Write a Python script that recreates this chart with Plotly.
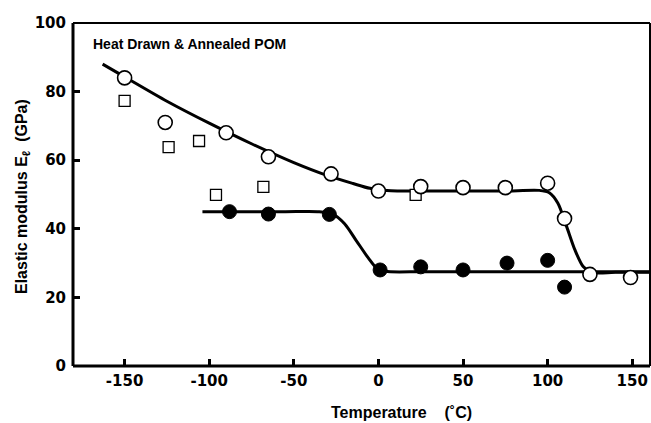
import plotly.graph_objects as go

# Open circles (heat drawn & annealed, upper series)
open_x = [-150, -126, -90, -65, -28, 0, 25, 50, 75, 100, 110, 125, 149]
open_y = [84, 71, 68, 61, 56, 51, 52.3, 52, 52, 53.3, 43, 26.7, 25.8]

# Filled circles (lower series)
fill_x = [-88, -65, -29, 1, 25, 50, 76, 100, 110]
fill_y = [45, 44.3, 44.2, 28, 28.9, 28, 30, 30.8, 23]

# Open squares
sq_x = [-150, -124, -106, -96, -68, 22]
sq_y = [77.3, 63.8, 65.6, 49.9, 52.2, 49.9]

# Guide curve through open circles
up_x = [-163, -150, -125, -100, -75, -50, -30, -15, -5, 5, 25, 50, 75, 95, 101, 106, 111, 116, 121, 126, 140, 160.5]
up_y = [88, 84.3, 77.2, 70.8, 64.8, 59.3, 55.5, 53.2, 51.8, 51.2, 51, 51, 51, 51.2, 50.5, 47.5, 41, 34, 29, 27.3, 27.3, 27.3]

# Guide curve through filled circles
lo_x = [-104, -80, -55, -35, -27, -20, -13, -6, -1, 4, 25, 50, 75, 100, 125, 160.5]
lo_y = [45, 45, 45, 45, 44.3, 41.5, 36.5, 31.5, 28.5, 27.6, 27.5, 27.5, 27.5, 27.5, 27.5, 27.5]

x_ticks = [-150, -100, -50, 0, 50, 100, 150]
y_ticks = [0, 20, 40, 60, 80, 100]

fig = go.Figure()
fig.add_trace(go.Scatter(x=up_x, y=up_y, mode="lines", line=dict(color="black", width=3, shape="spline", smoothing=0.8), hoverinfo="skip"))
fig.add_trace(go.Scatter(x=lo_x, y=lo_y, mode="lines", line=dict(color="black", width=3, shape="spline", smoothing=0.8), hoverinfo="skip"))
fig.add_trace(go.Scatter(x=sq_x, y=sq_y, mode="markers", marker=dict(symbol="square", size=11, color="white", line=dict(color="black", width=1.3))))
fig.add_trace(go.Scatter(x=open_x, y=open_y, mode="markers", marker=dict(symbol="circle", size=14, color="white", line=dict(color="black", width=1.6))))
fig.add_trace(go.Scatter(x=fill_x, y=fill_y, mode="markers", marker=dict(symbol="circle", size=14, color="black", line=dict(color="black", width=1))))

tickfont = dict(family="DejaVu Sans", size=15, color="black", weight="bold")
fig.update_layout(
    width=651, height=423,
    margin=dict(l=73, r=1, t=23, b=57),
    paper_bgcolor="white", plot_bgcolor="white",
    showlegend=False,
    font=dict(family="DejaVu Sans", color="black"),
    xaxis=dict(
        range=[-180.5, 160.5], tickvals=x_ticks,
        ticktext=[str(v) for v in x_ticks],
        ticks="inside", ticklen=7, tickwidth=2.5, tickcolor="black",
        showgrid=False, zeroline=False, showline=False,
        tickfont=tickfont, ticklabelstandoff=4,
    ),
    yaxis=dict(
        range=[0, 100], tickvals=y_ticks,
        ticks="inside", ticklen=7, tickwidth=2.5, tickcolor="black",
        showgrid=False, zeroline=False, showline=False,
        tickfont=tickfont, ticklabelstandoff=6,
    ),
    shapes=[
        dict(type="line", xref="paper", yref="paper", x0=0, x1=1, y0=0, y1=0, line=dict(color="black", width=3)),
        dict(type="line", xref="paper", yref="paper", x0=0, x1=0, y0=0, y1=1, line=dict(color="black", width=3)),
        dict(type="line", xref="paper", yref="paper", x0=0, x1=1, y0=1, y1=1, line=dict(color="black", width=2)),
        dict(type="line", xref="paper", yref="paper", x0=1, x1=1, y0=0, y1=1, line=dict(color="black", width=2)),
    ],
    annotations=[
        dict(text="<b>Heat Drawn & Annealed POM</b>", xref="paper", yref="paper", x=0.031, y=0.94,
             xanchor="left", yanchor="middle", showarrow=False,
             font=dict(family="Liberation Sans", size=14, color="black")),
        dict(text="<b>Temperature &nbsp; &nbsp;(˚C)</b>", xref="paper", yref="paper", x=(401 - 73) / 577, y=-0.135,
             xanchor="center", yanchor="middle", showarrow=False,
             font=dict(family="Liberation Sans", size=16, color="black")),
        dict(text="<b>Elastic modulus E<sub>ℓ</sub>  (GPa)</b>", xref="paper", yref="paper", x=(22 - 73) / 577, y=(366 - 197) / 343,
             xanchor="center", yanchor="middle", textangle=-90, showarrow=False,
             font=dict(family="Liberation Sans", size=16, color="black")),
    ],
)
fig.write_html("out.html")
